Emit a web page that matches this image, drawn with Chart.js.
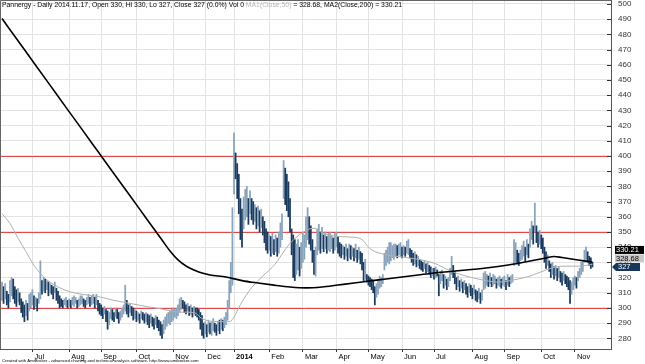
<!DOCTYPE html>
<html>
<head>
<meta charset="utf-8">
<script src="https://cdn.jsdelivr.net/npm/chart.js@4.4.0/dist/chart.umd.min.js"></script>
<style>
  html, body { margin: 0; padding: 0; background: #fff; }
</style>
</head>
<body>
<canvas id="grafico" width="645" height="364"></canvas>
<script>
// daily bars, Jun 2013 .. 2014.11.17 (one entry per trading day)
const barLow = [
  // Jun 2013
  305,303,306,302,300,304,308,306,303,301,304,302,297,294,291,295,292,298,300,
  // Jul
  302,299,301,298,303,306,309,311,310,312,308,310,309,306,310,305,303,300,301,300,302,301,300,
  // Aug
  301,300,302,301,303,300,301,302,303,301,300,302,303,301,302,303,300,302,298,296,
  // Sep
  295,293,296,291,286,289,293,292,291,294,293,290,292,294,296,298,296,294,297,295,292,293,
  // Oct
  291,292,290,293,292,290,291,289,287,290,288,286,289,287,285,282,280,283,286,288,290,289,291,
  // Nov
  292,294,293,295,297,299,300,297,296,298,295,296,294,296,295,294,292,286,282,280,
  // Dec
  283,281,284,283,282,285,284,282,285,283,286,285,287,289,292,300,310,315,
  // Jan 2014
  375,385,372,362,345,340,352,358,360,355,362,358,355,357,352,354,350,353,348,343,338,336,
  // Feb
  338,334,336,335,337,334,336,340,345,372,368,364,360,350,335,320,318,322,325,321,326,
  // Mar
  330,332,340,345,342,338,330,322,321,335,338,336,339,337,339,336,338,337,339,336,338,
  // Apr
  340,336,334,333,335,332,334,331,333,332,334,331,333,330,332,329,325,318,319,317,
  // May
  315,314,312,310,302,307,309,313,314,316,325,328,330,329,331,333,332,334,333,335,334,
  // Jun
  333,335,334,336,335,333,330,328,329,327,328,326,325,324,326,323,324,322,320,321,
  // Jul
  319,320,321,308,316,318,313,315,312,314,318,322,320,316,312,314,311,313,310,312,309,307,310,308,
  // Aug
  306,309,305,304,306,303,305,312,313,315,314,316,314,315,316,313,315,314,313,315,
  // Sep
  314,312,315,314,316,317,328,330,329,328,331,332,334,331,335,333,340,345,342,350,343,340,342,
  // Oct
  339,336,330,326,328,324,320,322,319,321,318,320,317,315,318,316,314,312,303,309,312,
  // Nov
  315,313,318,320,322,324,330,332,330,328,326,327
];
const barHigh = [
  317,314,316,311,309,318,320,319,314,312,313,310,306,304,302,305,303,309,310,
  312,308,307,306,310,331,318,320,319,318,317,316,315,314,317,313,311,308,306,305,306,307,305,
  306,305,307,308,307,305,306,308,308,306,305,307,309,307,308,309,307,309,305,303,
  302,300,301,299,298,297,300,299,297,300,299,297,298,300,302,315,305,302,303,301,300,299,
  298,297,296,298,297,296,297,296,295,296,294,293,295,294,292,291,289,292,294,296,297,298,299,
  300,299,300,302,306,307,305,304,302,303,301,302,300,301,300,300,299,297,295,290,
  291,289,292,290,291,293,290,289,291,292,293,292,294,297,305,318,330,366,
  415,402,395,388,372,365,373,378,380,372,377,372,370,368,366,367,364,365,360,357,352,350,
  348,347,349,345,348,346,350,356,362,397,392,388,383,372,352,348,345,342,345,340,343,
  350,348,360,366,360,354,345,338,340,352,355,350,353,348,350,347,349,350,348,346,349,
  350,347,343,342,341,340,342,339,342,341,340,339,342,338,340,337,336,330,332,322,
  321,320,319,318,314,316,318,321,320,322,336,338,340,343,343,341,342,342,341,342,343,
  340,341,340,344,345,339,338,336,337,335,334,332,331,330,331,329,330,328,327,326,
  326,327,325,322,324,325,322,321,319,320,326,334,328,324,320,321,318,319,317,318,316,314,316,315,
  313,315,312,311,313,310,312,323,324,322,321,323,320,322,321,319,320,321,319,320,
  321,318,322,320,321,322,345,343,338,336,338,341,344,340,345,342,352,357,354,369,354,350,351,
  348,346,340,337,335,331,329,330,327,328,326,327,324,323,324,322,321,320,318,317,320,
  321,320,324,326,330,331,338,340,337,334,333,330
];

// month starts (bar index) and their labels
const monthIdx = [19, 42, 62, 84, 107, 127, 145, 167, 188, 209, 229, 250, 270, 294, 314, 337, 358];
const monthLabels = ['Jul', 'Aug', 'Sep', 'Oct', 'Nov', 'Dec', '2014', 'Feb', 'Mar', 'Apr', 'May', 'Jun', 'Jul', 'Aug', 'Sep', 'Oct', 'Nov'];

const priceTicks = [280, 290, 300, 310, 320, 330, 340, 350, 360, 370, 380, 390, 400, 410, 420, 430, 440, 450, 460, 470, 480, 490, 500];
const redLevels = [300, 350, 400];

// MA2(Close,200)
const ma200Idx = [0, 10, 20, 30, 40, 50, 60, 70, 80, 90, 100, 105, 110, 115, 120, 125, 130, 140, 150, 160, 170, 180, 190, 200, 210, 220, 230, 240, 250, 260, 270, 280, 290, 300, 310, 320, 330, 340, 345, 350, 360, 369];
const ma200Val = [490.4, 475.8, 461.2, 446.6, 432, 417.5, 402.9, 388.3, 373.8, 359.2, 344.7, 337.5, 331.6, 327.6, 325, 323, 321.7, 320.4, 318, 316.4, 315, 313.8, 313.2, 313.8, 315.1, 316.4, 317.8, 319.1, 320.4, 321.7, 323, 324, 325, 326, 327.3, 328.9, 330.9, 332.9, 333.9, 333.2, 331.6, 330.21];

// MA1(Close,50)
const ma50Idx = [0, 5, 10, 15, 20, 25, 30, 40, 50, 60, 70, 80, 90, 100, 110, 120, 125, 135, 142, 150, 155, 160, 165, 170, 180, 190, 195, 200, 210, 220, 225, 230, 240, 250, 260, 270, 280, 290, 300, 310, 320, 330, 340, 350, 360, 369];
const ma50Val = [362, 355.5, 346, 337, 328, 321.5, 317, 311.5, 309, 307.5, 305, 303, 301, 299.3, 297.3, 297, 293, 291, 291, 304, 312, 318, 323, 328, 342.5, 351, 352.5, 349.5, 347, 346.5, 345, 339, 335, 333.5, 332, 329.5, 324.5, 321, 318.5, 317, 318.5, 321, 325, 327.5, 327.5, 328.68];

// last values shown in the tags on the right axis
const tagValues = [330.21, 328.68, 327];
const tagTexts = ['330.21', '328.68', '327'];

const titleParts = [
  ['Pannergy - Daily 2014.11.17, Open 330, Hi 330, Lo 327, Close 327 (0.0%) Vol 0 ', '#000'],
  ['MA1(Close,50)', '#b8b8b8'],
  [' = 328.68, MA2(Close,200) = 330.21', '#000']
];
const footer = 'Created with AmiBroker - advanced charting and technical analysis software. http://www.amibroker.com';

const FONT = '"Liberation Sans", Arial, sans-serif';

const bars = barHigh.map((h, i) => ({ x: i, y: [barLow[i], h] }));
const barColors = barHigh.map((h, i) =>
  (i > 0 && h + barLow[i] < barHigh[i - 1] + barLow[i - 1]) ? '#1a3b5e' : '#8aa3bc');

const extras = {
  id: 'extras',
  beforeDatasetsDraw(chart) {
    // red support/resistance levels
    const { ctx, chartArea: a, scales: { y } } = chart;
    ctx.save();
    ctx.strokeStyle = '#dd4b4b';
    ctx.lineWidth = 1;
    ctx.beginPath();
    redLevels.forEach(v => {
      const py = Math.round(y.getPixelForValue(v)) + 0.5;
      ctx.moveTo(a.left, py);
      ctx.lineTo(a.right, py);
    });
    ctx.stroke();
    ctx.restore();
  },
  afterDraw(chart) {
    const { ctx, chartArea: a, scales: { y } } = chart;
    ctx.save();
    // frame top/left
    ctx.strokeStyle = '#666';
    ctx.lineWidth = 1;
    ctx.beginPath();
    ctx.moveTo(0.5, a.bottom);
    ctx.lineTo(0.5, 0.5);
    ctx.lineTo(a.right, 0.5);
    ctx.stroke();
    // small ticks inside the price axis
    ctx.strokeStyle = '#333';
    ctx.beginPath();
    priceTicks.forEach(v => {
      const py = Math.round(y.getPixelForValue(v)) + 0.5;
      ctx.moveTo(a.right - 4, py);
      ctx.lineTo(a.right, py);
    });
    ctx.stroke();

    // title, squeezed to the width it has in the original
    ctx.font = '8px ' + FONT;
    ctx.textBaseline = 'top';
    const full = titleParts.map(p => p[0]).join('');
    const k = Math.min(1, 400 / ctx.measureText(full).width);
    ctx.save();
    ctx.translate(2, 1);
    ctx.scale(k, 1);
    let tx = 0;
    titleParts.forEach(([t, c]) => {
      ctx.fillStyle = c;
      ctx.fillText(t, tx, 0);
      tx += ctx.measureText(t).width;
    });
    ctx.restore();

    // footer
    ctx.font = '4.3px ' + FONT;
    ctx.fillStyle = '#000';
    ctx.fillText(footer, 2, 359);

    // value tags
    const baseY = y.getPixelForValue(tagValues[2]);
    const styles = [['#000', '#fff', -17], ['#c8c8c8', '#000', -8.5], ['#17385a', '#fff', 0]];
    ctx.font = '7.5px ' + FONT;
    ctx.textBaseline = 'middle';
    tagTexts.forEach((t, i) => {
      const [bg, fg, dy] = styles[i];
      const cy = baseY + dy;
      ctx.fillStyle = bg;
      if (i === 2) {
        ctx.beginPath();
        ctx.moveTo(a.right + 1, cy);
        ctx.lineTo(a.right + 5, cy - 4);
        ctx.lineTo(640, cy - 4);
        ctx.lineTo(640, cy + 4);
        ctx.lineTo(a.right + 5, cy + 4);
        ctx.closePath();
        ctx.fill();
        ctx.fillStyle = fg;
        ctx.fillText(t, a.right + 7, cy + 0.5);
      } else {
        ctx.fillRect(a.right + 4, cy - 4, 29, 8);
        ctx.fillStyle = fg;
        ctx.fillText(t, a.right + 5, cy + 0.5);
      }
    });
    ctx.restore();
  }
};

const ctx = document.getElementById('grafico').getContext('2d');
const chart = new Chart(ctx, {
  type: 'bar',
  data: {
    datasets: [
      {
        type: 'line',
        label: 'MA2',
        data: ma200Idx.map((x, i) => ({ x, y: ma200Val[i] })),
        borderColor: '#000',
        borderWidth: 1.6,
        pointRadius: 0,
        cubicInterpolationMode: 'monotone',
        order: 0
      },
      {
        type: 'line',
        label: 'MA1',
        data: ma50Idx.map((x, i) => ({ x, y: ma50Val[i] })),
        borderColor: '#b0b0b0',
        borderWidth: 1,
        pointRadius: 0,
        cubicInterpolationMode: 'monotone',
        order: 1
      },
      {
        label: 'Pannergy',
        data: bars,
        backgroundColor: barColors,
        borderWidth: 0,
        barThickness: 1.1,
        order: 2
      }
    ]
  },
  options: {
    responsive: false,
    animation: false,
    layout: { padding: 0 },
    plugins: { legend: { display: false }, tooltip: { enabled: false } },
    scales: {
      x: {
        type: 'linear',
        min: -1.25,
        max: 380.6,
        offset: false,
        afterBuildTicks: s => { s.ticks = monthIdx.map(v => ({ value: v })); },
        afterFit: s => { s.height = 15; s.paddingLeft = 0; s.paddingRight = 0; },
        ticks: {
          autoSkip: false,
          maxRotation: 0,
          align: 'start',
          padding: 0,
          color: '#000',
          font: c => ({ family: FONT, size: 7.5, weight: monthLabels[c.index] === '2014' ? 'bold' : 'normal' }),
          callback: v => ' ' + monthLabels[monthIdx.indexOf(v)]
        },
        grid: { color: '#e3e3e3', tickLength: 3, tickColor: '#333', offset: false },
        border: { color: '#555' }
      },
      y: {
        position: 'right',
        min: 273,
        max: 502.63,
        afterBuildTicks: s => { s.ticks = priceTicks.map(v => ({ value: v })); },
        afterFit: s => { s.width = 34; s.paddingTop = 0; s.paddingBottom = 0; },
        ticks: { color: '#333', padding: 7, font: { family: FONT, size: 8 } },
        grid: { color: '#e3e3e3', drawTicks: false },
        border: { color: '#555' }
      }
    }
  },
  plugins: [extras]
});
</script>
</body>
</html>
